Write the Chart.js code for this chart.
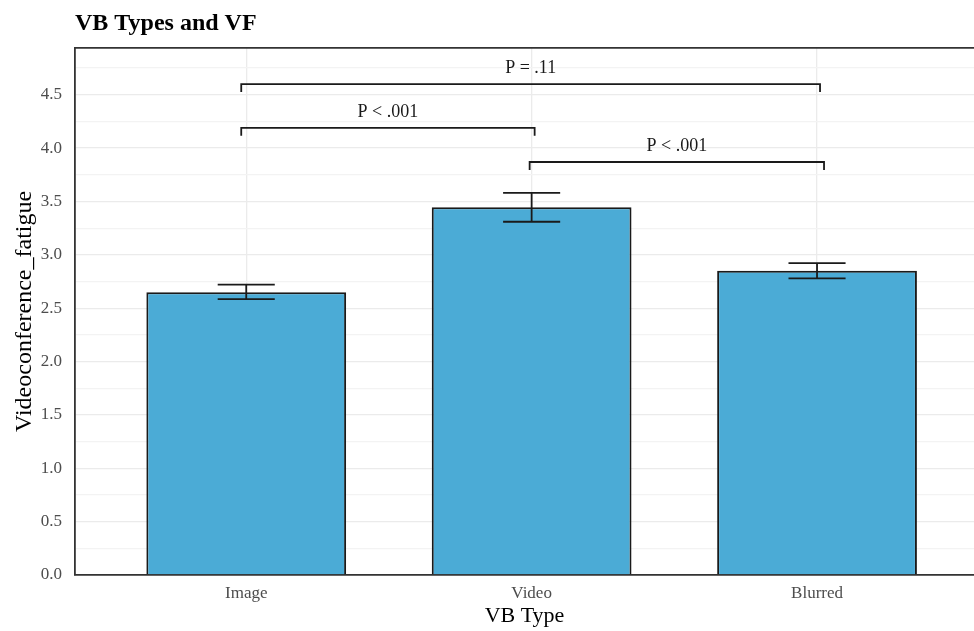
<!DOCTYPE html>
<html>
<head>
<meta charset="utf-8">
<script src="https://cdn.jsdelivr.net/npm/chart.js@4/dist/chart.umd.min.js"></script>
<style>
  body { margin: 0; background: #fff; overflow: hidden; }
  canvas { display: block; }
</style>
</head>
<body>
<canvas id="chart" width="974" height="631"></canvas>
<script>
const categories = ['Image', 'Video', 'Blurred'];
const means = [2.65, 3.445, 2.85];
const errLow = [2.585, 3.31, 2.78];
const errHigh = [2.72, 3.58, 2.922];

const yTicks = [0, 0.5, 1.0, 1.5, 2.0, 2.5, 3.0, 3.5, 4.0, 4.5];
const yMinor = [0.25, 0.75, 1.25, 1.75, 2.25, 2.75, 3.25, 3.75, 4.25, 4.75];

// significance brackets: category index pairs, bracket height, label
const compFrom = [0, 1, 0];
const compTo = [1, 2, 2];
const compLevel = [4.19, 3.87, 4.60];
const compLabels = ['P < .001', 'P < .001', 'P = .11'];

const serif = '"Liberation Serif", "Times New Roman", serif';
const ink = '#1a1a1a';

const errorBars = {
  id: 'errorBars',
  afterDatasetsDraw(chart) {
    const { ctx, scales: { x, y } } = chart;
    const capHalf = x.getPixelForValue(1.1) - x.getPixelForValue(1);
    ctx.save();
    ctx.strokeStyle = ink;
    ctx.lineWidth = 1.8;
    for (let i = 0; i < means.length; i++) {
      const cx = x.getPixelForValue(i + 1);
      const top = y.getPixelForValue(errHigh[i]);
      const bot = y.getPixelForValue(errLow[i]);
      ctx.beginPath();
      ctx.moveTo(cx, top); ctx.lineTo(cx, bot);
      ctx.moveTo(cx - capHalf, top); ctx.lineTo(cx + capHalf, top);
      ctx.moveTo(cx - capHalf, bot); ctx.lineTo(cx + capHalf, bot);
      ctx.stroke();
    }
    ctx.restore();
  }
};

const brackets = {
  id: 'brackets',
  afterDatasetsDraw(chart) {
    const { ctx, scales: { x, y } } = chart;
    const nudgeL = [-5, -2, -5];
    const nudgeR = [3, 7, 3];
    const tip = 0.075;
    ctx.save();
    ctx.strokeStyle = ink;
    ctx.lineWidth = 1.8;
    ctx.fillStyle = ink;
    ctx.font = '18px ' + serif;
    ctx.textAlign = 'center';
    ctx.textBaseline = 'alphabetic';
    for (let i = 0; i < compLabels.length; i++) {
      const x1 = x.getPixelForValue(compFrom[i] + 1) + nudgeL[i];
      const x2 = x.getPixelForValue(compTo[i] + 1) + nudgeR[i];
      const yl = y.getPixelForValue(compLevel[i]);
      const yt = y.getPixelForValue(compLevel[i] - tip);
      ctx.beginPath();
      ctx.moveTo(x1, yt); ctx.lineTo(x1, yl); ctx.lineTo(x2, yl); ctx.lineTo(x2, yt);
      ctx.stroke();
      ctx.fillText(compLabels[i], (x1 + x2) / 2, yl - 11);
    }
    ctx.restore();
  }
};

const topFrame = {
  id: 'topFrame',
  afterDraw(chart) {
    const { ctx, chartArea } = chart;
    ctx.save();
    ctx.strokeStyle = '#333333';
    ctx.lineWidth = 1.8;
    ctx.beginPath();
    ctx.moveTo(chartArea.left, chartArea.top);
    ctx.lineTo(chartArea.right, chartArea.top);
    ctx.stroke();
    ctx.restore();
  }
};

new Chart(document.getElementById('chart'), {
  type: 'bar',
  data: {
    datasets: [{
      data: means.map((v, i) => ({ x: i + 1, y: v })),
      backgroundColor: '#4BABD6',
      borderColor: ink,
      borderWidth: 2,
      borderSkipped: 'bottom',
      categoryPercentage: 1,
      barPercentage: 0.7,
    }],
  },
  options: {
    responsive: false,
    animation: false,
    layout: { padding: { left: 0, right: 0, top: 0, bottom: 0 } },
    plugins: {
      legend: { display: false },
      tooltip: { enabled: false },
      title: {
        display: true,
        text: 'VB Types and VF',
        align: 'start',
        fullSize: false,
        color: '#000',
        font: { family: serif, size: 24, weight: 'bold' },
        padding: { top: 9, bottom: 10 },
      },
    },
    scales: {
      x: {
        type: 'linear',
        min: 0.4,
        max: 3.55,
        offset: false,
        afterBuildTicks: (scale) => { scale.ticks = categories.map((c, i) => ({ value: i + 1 })); },
        afterFit: (scale) => { scale.height = 56; },
        ticks: {
          callback: (v) => categories[v - 1],
          color: '#4d4d4d',
          font: { family: serif, size: 17 },
          padding: 8,
          maxRotation: 0,
        },
        grid: { color: '#ebebeb', lineWidth: 1.3, drawTicks: false, offset: false },
        border: { display: true, color: '#333333', width: 1.8 },
        title: {
          display: true,
          text: 'VB Type',
          color: '#000',
          font: { family: serif, size: 22 },
          padding: { top: 0, bottom: 2 },
        },
      },
      y: {
        min: 0,
        max: 4.94,
        afterBuildTicks: (scale) => {
          scale.ticks = yTicks.concat(yMinor).sort((a, b) => a - b).map((v) => ({ value: v }));
        },
        afterFit: (scale) => { scale.width = 75; },
        ticks: {
          callback: (v) => (yTicks.includes(v) ? v.toFixed(1) : ''),
          color: '#4d4d4d',
          font: { family: serif, size: 17 },
          padding: 13,
        },
        grid: {
          color: (c) => (yTicks.includes(c.tick.value) ? '#ebebeb' : '#f3f3f3'),
          lineWidth: 1.3,
          drawTicks: false,
        },
        border: { display: true, color: '#333333', width: 1.8 },
        title: {
          display: true,
          text: 'Videoconference_fatigue',
          color: '#000',
          font: { family: serif, size: 24 },
          padding: { top: 10, bottom: 0 },
        },
      },
    },
  },
  plugins: [errorBars, brackets, topFrame],
});
</script>
</body>
</html>
